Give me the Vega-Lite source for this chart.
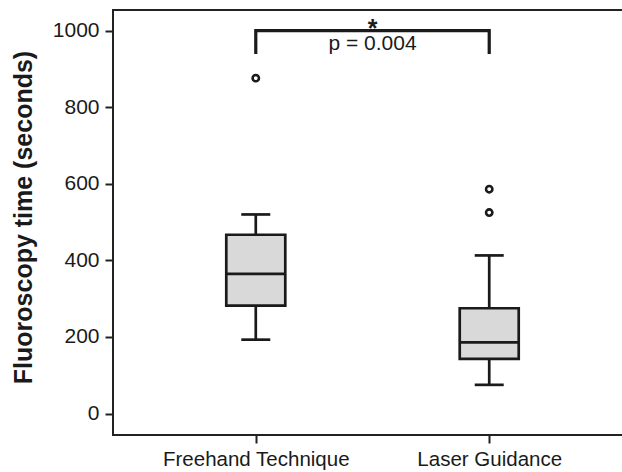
{
  "$schema": "https://vega.github.io/schema/vega-lite/v6.json",
  "autosize": "none",
  "padding": {"left": 113, "top": 10, "right": 0, "bottom": 37},
  "width": 519,
  "height": 425,
  "config": {
    "font": "Liberation Sans",
    "view": {"stroke": "#222222", "strokeWidth": 2},
    "axis": {"domain": false, "grid": false, "tickColor": "#222222", "tickWidth": 2, "tickSize": 8, "labelColor": "#1a1a1a", "labelFont": "Liberation Sans"}
  },
  "datasets": {
    "boxes": [
      {"group": "Freehand Technique", "lower": 193, "q1": 282, "median": 365, "q3": 467, "upper": 520},
      {"group": "Laser Guidance", "lower": 75, "q1": 143, "median": 186, "q3": 275, "upper": 413}
    ],
    "outliers": [
      {"group": "Freehand Technique", "value": 876},
      {"group": "Laser Guidance", "value": 586},
      {"group": "Laser Guidance", "value": 525}
    ],
    "bracket": [
      {"group": "Freehand Technique", "value": 939, "step": 1},
      {"group": "Freehand Technique", "value": 1000, "step": 2},
      {"group": "Laser Guidance", "value": 1000, "step": 3},
      {"group": "Laser Guidance", "value": 939, "step": 4}
    ],
    "star": [
      {"label": "*", "value": 983}
    ],
    "pval": [
      {"label": "p = 0.004", "value": 966}
    ]
  },
  "layer": [
    {
      "data": {"name": "boxes"},
      "mark": {"type": "rule", "color": "#1a1a1a", "strokeWidth": 2.7},
      "encoding": {
        "x": {"field": "group", "type": "nominal", "sort": null,
          "scale": {"type": "point", "padding": 0.6116},
          "axis": {"title": null, "labelFontSize": 20.5, "labelPadding": 6, "labelAngle": 0, "labelLimit": 0}},
        "y": {"field": "lower", "type": "quantitative",
          "scale": {"domain": [-56, 1054], "nice": false, "zero": false},
          "axis": {"values": [0, 200, 400, 600, 800, 1000], "format": "d", "title": "Fluoroscopy time (seconds)", "titleFontSize": 25, "titleFontWeight": "bold", "titleColor": "#1a1a1a", "titleX": -82, "titleY": 207, "titleBaseline": "alphabetic", "titleAngle": -90, "labelFontSize": 21, "labelPadding": 6}},
        "y2": {"field": "upper"}
      }
    },
    {
      "data": {"name": "boxes"},
      "mark": {"type": "bar", "size": 59, "fill": "#d9d9d9", "stroke": "#1a1a1a", "strokeWidth": 2.7},
      "encoding": {
        "x": {"field": "group", "type": "nominal", "sort": null},
        "y": {"field": "q1", "type": "quantitative"},
        "y2": {"field": "q3"}
      }
    },
    {
      "data": {"name": "boxes"},
      "mark": {"type": "tick", "size": 58, "thickness": 2.7, "color": "#1a1a1a", "opacity": 1},
      "encoding": {
        "x": {"field": "group", "type": "nominal", "sort": null},
        "y": {"field": "median", "type": "quantitative"}
      }
    },
    {
      "data": {"name": "boxes"},
      "mark": {"type": "tick", "size": 29, "thickness": 2.7, "color": "#1a1a1a", "opacity": 1},
      "encoding": {
        "x": {"field": "group", "type": "nominal", "sort": null},
        "y": {"field": "lower", "type": "quantitative"}
      }
    },
    {
      "data": {"name": "boxes"},
      "mark": {"type": "tick", "size": 29, "thickness": 2.7, "color": "#1a1a1a", "opacity": 1},
      "encoding": {
        "x": {"field": "group", "type": "nominal", "sort": null},
        "y": {"field": "upper", "type": "quantitative"}
      }
    },
    {
      "data": {"name": "outliers"},
      "mark": {"type": "point", "shape": "circle", "size": 40, "filled": false, "stroke": "#1a1a1a", "strokeWidth": 2.6, "opacity": 1},
      "encoding": {
        "x": {"field": "group", "type": "nominal", "sort": null},
        "y": {"field": "value", "type": "quantitative"}
      }
    },
    {
      "data": {"name": "bracket"},
      "mark": {"type": "line", "color": "#1a1a1a", "strokeWidth": 3.2, "strokeJoin": "miter", "strokeCap": "butt"},
      "encoding": {
        "x": {"field": "group", "type": "nominal", "sort": null},
        "y": {"field": "value", "type": "quantitative"},
        "order": {"field": "step", "type": "quantitative"}
      }
    },
    {
      "data": {"name": "star"},
      "mark": {"type": "text", "color": "#1a1a1a", "baseline": "alphabetic", "align": "center", "fontSize": 25, "fontWeight": "bold"},
      "encoding": {
        "y": {"field": "value", "type": "quantitative"},
        "text": {"field": "label", "type": "nominal"}
      }
    },
    {
      "data": {"name": "pval"},
      "mark": {"type": "text", "color": "#1a1a1a", "baseline": "middle", "align": "center", "fontSize": 21},
      "encoding": {
        "y": {"field": "value", "type": "quantitative"},
        "text": {"field": "label", "type": "nominal"}
      }
    }
  ]
}
